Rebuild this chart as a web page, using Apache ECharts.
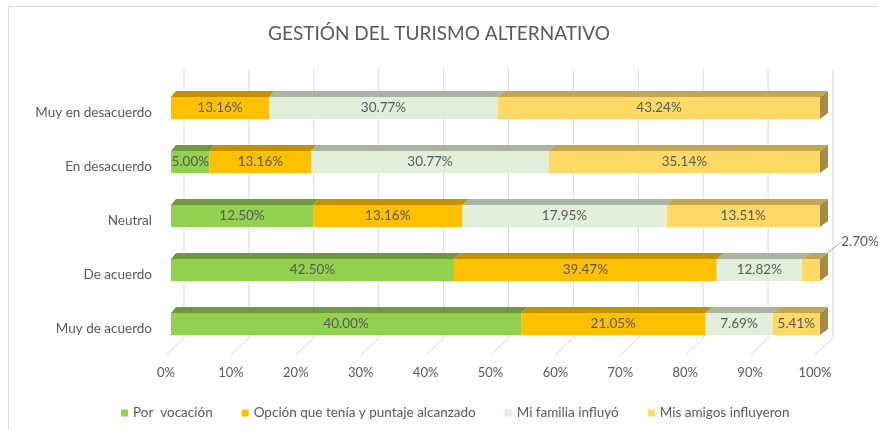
<!DOCTYPE html>
<html>
<head>
<meta charset="utf-8">
<script src="https://cdn.jsdelivr.net/npm/echarts@6/dist/echarts.min.js"></script>
<style>
  html, body { margin: 0; padding: 0; background: #fff; }
  #chart { width: 878px; height: 430px; }
</style>
</head>
<body>
<div id="chart"></div>
<script>
// categories (top to bottom)
const categories = ['Muy en desacuerdo', 'En desacuerdo', 'Neutral', 'De acuerdo', 'Muy de acuerdo'];
const seriesNames = ['Por  vocación', 'Opción que tenía y puntaje alcanzado', 'Mi familia influyó', 'Mis amigos influyeron'];

// values as labelled (% of each column)
const porVocacion = [0, 5.00, 12.50, 42.50, 40.00];
const opcionPuntaje = [13.16, 13.16, 13.16, 39.47, 21.05];
const miFamilia = [30.77, 30.77, 17.95, 12.82, 7.69];
const misAmigos = [43.24, 35.14, 13.51, 2.70, 5.41];

const xTicks = [0, 10, 20, 30, 40, 50, 60, 70, 80, 90, 100];

const raw = [porVocacion, opcionPuntaje, miFamilia, misAmigos];
const frontColors = ['#92d050', '#ffc000', '#e2efda', '#ffd966'];
const topColors = ['#6f9a3b', '#c29200', '#a9b4a2', '#c4a650'];
const sideColor = '#a78b42';

// 100% stacked: each row normalised to its own total
const rowSum = categories.map((c, i) => raw.reduce((a, s) => a + s[i], 0));
const shares = raw.map(s => s.map((v, i) => v / rowSum[i] * 100));

const BAR_H = 22, DEPTH_Y = 6;

const barSeries = raw.map((vals, s) => ({
  name: seriesNames[s],
  type: 'bar',
  stack: 'total',
  barWidth: BAR_H,
  z: 3,
  itemStyle: { color: frontColors[s] },
  emphasis: { disabled: true },
  label: {
    show: true,
    position: 'inside',
    color: '#595959',
    fontSize: 13.5,
    formatter: p => vals[p.dataIndex] > 0 ? vals[p.dataIndex].toFixed(2) + '%' : ''
  },
  labelLine: { show: false },
  data: shares[s].map((v, i) => (s === 3 && i === 3)
    ? { value: v, labelLine: { show: true, lineStyle: { color: '#a6a6a6', width: 1 } } }
    : v),
  labelLayout: s === 3 ? (p => p.dataIndex === 3 ? { dx: 49, dy: -28 } : {}) : undefined
}));

const option = {
  animation: false,
  textStyle: { fontFamily: 'Lato' },
  title: {
    text: 'GESTIÓN DEL TURISMO ALTERNATIVO',
    left: 'center',
    top: 19,
    textStyle: { color: '#595959', fontSize: 19, fontWeight: 'normal', fontFamily: 'Lato' }
  },
  graphic: [{
    type: 'rect',
    shape: { x: 8.5, y: 6.5, width: 900, height: 460 },
    style: { fill: null, stroke: '#d9d9d9', lineWidth: 1 },
    silent: true
  }],
  legend: {
    data: seriesNames,
    left: 116,
    top: 401,
    icon: 'rect',
    itemWidth: 7,
    itemHeight: 7,
    itemGap: 29,
    textStyle: { color: '#595959', fontSize: 13.5 }
  },
  grid: { left: 171, right: 58, top: 81, bottom: 79 },
  xAxis: {
    type: 'value',
    min: 0,
    max: 100,
    interval: 10,
    axisLine: { show: false },
    axisTick: { show: false },
    splitLine: { show: false },
    axisLabel: { formatter: '{value}%', color: '#595959', fontSize: 13, margin: 15, padding: [0, 10, 0, 0] }
  },
  yAxis: {
    type: 'category',
    inverse: true,
    data: categories,
    axisLine: { show: false },
    axisTick: { show: false },
    axisLabel: { color: '#595959', fontSize: 13.5, margin: 19, verticalAlign: 'top', lineHeight: 9 }
  },
  series: [
    {
      // back wall and floor grid lines
      type: 'custom',
      z: 1,
      silent: true,
      clip: false,
      data: xTicks.map(v => [v, 0]),
      renderItem: (params, api) => {
        const x = api.coord([api.value(0), 0])[0];
        const cs = params.coordSys;
        const top = cs.y - 12, wallBottom = cs.y + cs.height - 13, front = cs.y + cs.height + 4;
        return {
          type: 'polyline',
          shape: { points: [[x + 13, top], [x + 13, wallBottom], [x - 5, front]] },
          style: { stroke: '#d9d9d9', lineWidth: 1, fill: null }
        };
      }
    },
    ...barSeries,
    {
      // 3D top faces and right end face
      type: 'custom',
      z: 2,
      silent: true,
      clip: false,
      data: categories.map((c, i) => [0, i]),
      renderItem: (params, api) => {
        const i = params.dataIndex;
        const yc = api.coord([0, i])[1];
        const yTop = yc - BAR_H / 2;
        const children = [];
        let cum = 0, lastS = -1;
        for (let s = 0; s < shares.length; s++) {
          const v = shares[s][i];
          if (v <= 0) continue;
          const xa = api.coord([cum, i])[0];
          const xb = api.coord([cum + v, i])[0];
          const dxa = 5 + 3 * cum / 100, dxb = 5 + 3 * (cum + v) / 100;
          children.push({
            type: 'polygon',
            shape: { points: [[xa, yTop], [xb, yTop], [xb + dxb, yTop - DEPTH_Y], [xa + dxa, yTop - DEPTH_Y]] },
            style: { fill: topColors[s] }
          });
          cum += v;
          lastS = s;
        }
        const xe = api.coord([cum, i])[0];
        const dxe = 5 + 3 * cum / 100;
        children.push({
          type: 'polygon',
          shape: { points: [[xe, yTop], [xe + dxe, yTop - DEPTH_Y], [xe + dxe, yTop + BAR_H - DEPTH_Y], [xe, yTop + BAR_H]] },
          style: { fill: lastS === 3 ? sideColor : topColors[lastS] }
        });
        return { type: 'group', children: children };
      }
    }
  ]
};

const chart = echarts.init(document.getElementById('chart'));
chart.setOption(option);
window.addEventListener('resize', () => chart.resize());
</script>
</body>
</html>
